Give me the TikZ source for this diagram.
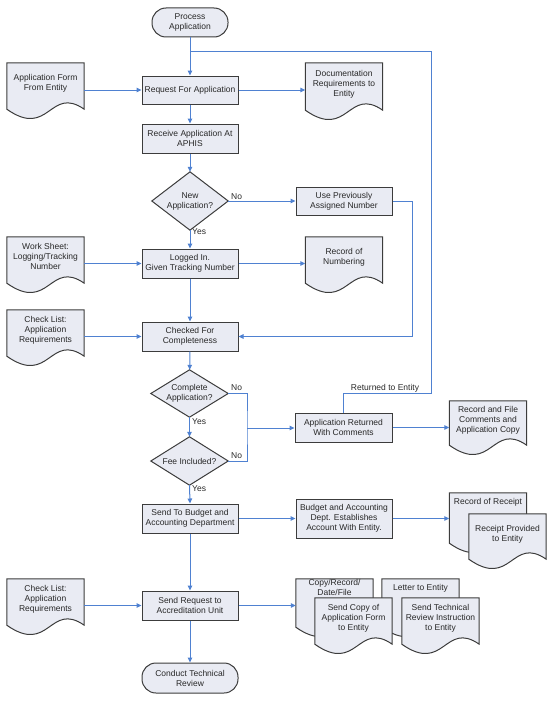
\documentclass[tikz,border=0pt]{standalone}
\usepackage{fontspec}
\setmainfont{Liberation Sans}
\usetikzlibrary{arrows.meta,calc,backgrounds}
\definecolor{boxfill}{RGB}{233,235,243}
\definecolor{boxline}{RGB}{60,60,60}
\definecolor{flow}{RGB}{79,129,209}
\definecolor{txt}{RGB}{40,40,40}
\newcommand\docshape[1]{\path[shp] (#1.south west) -- (#1.north west) -- (#1.north east) -- (#1.south east) .. controls ($(#1.south)+(4,-24)$) and ($(#1.south)+(4,30)$) .. (#1.south west) -- cycle;}
\begin{document}
\begin{tikzpicture}[x=1pt,y=-1pt, font=\fontsize{8.5}{10}\selectfont, text=txt,
 box/.style={draw=boxline, fill=boxfill, line width=1pt, rectangle, minimum width=96, minimum height=29, inner sep=1pt, align=center},
 term/.style={box, rounded corners=14pt},
 doc/.style={rectangle, minimum width=77, inner sep=1pt, align=center, text depth=6.5pt},
 dia/.style={rectangle, inner sep=0pt, align=center},
 shp/.style={draw=boxline, fill=boxfill, line width=1pt},
 flowline/.style={draw=flow, line width=1pt},
 arr/.style={flowline, -{Triangle[length=5pt,width=4.5pt]}},
 lbl/.style={inner sep=0pt, anchor=west},
 toplbl/.style={anchor=north, inner sep=0pt, align=center}]
\useasboundingbox (0,0) rectangle (553,701);

% process nodes
\node[term, minimum width=76] (start) at (190,22.5) {Process\\Application};
\node[box, minimum height=28] (req) at (190,90) {Request For Application};
\node[box] (recv) at (190,138.5) {Receive Application At\\APHIS};
\node[dia, minimum width=76, minimum height=58] (newapp) at (190,201) {New\\Application?};
\node[box, minimum height=28] (useprev) at (344,201) {Use Previously\\Assigned Number};
\node[box] (logged) at (190,263.5) {Logged In.\\Given Tracking Number};
\node[box] (checked) at (190,336.5) {Checked For\\Completeness};
\node[dia, minimum width=77, minimum height=47] (complete) at (189.5,393.5) {Complete\\Application?};
\node[dia, minimum width=77, minimum height=48] (fee) at (189.5,461) {Fee Included?};
\node[box, minimum width=97] (ret) at (343.5,427.5) {Application Returned\\With Comments};
\node[box] (budget) at (190,518.5) {Send To Budget and\\Accounting Department};
\node[box, minimum height=39] (bdept) at (344,518.5) {Budget and Accounting\\Dept. Establishes\\Account With Entity.};
\node[box] (sendreq) at (190,605.5) {Send Request to\\Accreditation Unit};
\node[term, minimum height=30] (conduct) at (190,678) {Conduct Technical\\Review};

% documents
\node[doc, minimum height=46] (appform) at (45.5,86) {Application Form\\From Entity};
\node[doc, minimum height=47] (docreq) at (344,86.5) {Documentation\\Requirements to\\Entity};
\node[doc, minimum height=46] (worksheet) at (45.5,260) {Work Sheet:\\Logging/Tracking\\Number};
\node[doc, minimum height=46] (recnum) at (344,260) {Record of\\Numbering};
\node[doc, minimum height=46] (checklist) at (45.5,333) {Check List:\\Application\\Requirements};
\node[doc, minimum height=44] (recfile) at (488,423) {Record and File\\Comments and\\Application Copy};
\node[doc, minimum height=50, label={[toplbl, yshift=-5pt]north:Record of Receipt}] (recreceipt) at (488,518) {};
\node[doc, minimum height=45] (receiptprov) at (507.5,536.5) {Receipt Provided\\to Entity};
\node[doc, minimum height=46] (checklist2) at (45.5,602) {Check List:\\Application\\Requirements};
\node[doc, minimum height=48, label={[toplbl]north:Copy/Record/\\Date/File}] (copyrec) at (334.5,603) {};
\node[doc, minimum height=48, label={[toplbl, yshift=-5pt]north:Letter to Entity}] (letter) at (420.5,603) {};
\node[doc, minimum height=46] (sendcopy) at (353.5,621) {Send Copy of\\Application Form\\to Entity};
\node[doc, minimum height=46] (sendtech) at (440.5,621) {Send Technical\\Review Instruction\\to Entity};

\begin{scope}[on background layer]
\foreach \n in {appform,docreq,worksheet,recnum,checklist,recfile,recreceipt,receiptprov,checklist2,copyrec,letter,sendcopy,sendtech} {\docshape{\n}}
\foreach \n in {newapp,complete,fee} {\path[shp] (\n.north) -- (\n.east) -- (\n.south) -- (\n.west) -- cycle;}
\end{scope}

% connectors
\coordinate (j1) at (190,52);
\coordinate (loopc) at (431,393);
\coordinate (c2) at (412,201);
\coordinate (jc) at (247,428);

\draw[arr] (start) -- (req);
\draw[flowline] (ret.north) |- (loopc) |- (j1);
\node[inner sep=0pt] (retlbl) at (385,388) {Returned to Entity};
\draw[arr] (req.west -| appform.east) -- (req.west);
\draw[arr] (req.east) -- (req.east -| docreq.west);
\draw[arr] (req) -- (recv);
\draw[arr] (recv) -- (newapp);
\draw[arr] (newapp.east) -- (useprev.west);
\node[lbl] (no1) at (231,197) {No};
\draw[arr] (newapp.south) -- (logged.north);
\node[lbl] (yes1) at (192,232) {Yes};
\draw[arr] (useprev.east) -- (c2) |- (checked.east);
\draw[arr] (logged.west -| worksheet.east) -- (logged.west);
\draw[arr] (logged.east) -- (logged.east -| recnum.west);
\draw[arr] (logged) -- (checked);
\draw[arr] (checked.west -| checklist.east) -- (checked.west);
\draw[arr] (checked) -- (complete);
\draw[arr] (complete.south) -- (fee.north);
\node[lbl] (yes2) at (192,422) {Yes};
\draw[flowline] (complete.east) -| (jc) |- (fee.east);
\node[lbl] (no2) at (231,388) {No};
\node[lbl] (no3) at (231,456) {No};
\draw[arr] (jc) -- (jc -| ret.west);
\draw[arr] (ret.east) -- (ret.east -| recfile.west);
\draw[arr] (fee.south) -- (budget.north);
\node[lbl] (yes3) at (192,489) {Yes};
\draw[arr] (budget) -- (bdept);
\draw[arr] (bdept.east) -- (bdept.east -| recreceipt.west);
\draw[arr] (budget) -- (sendreq);
\draw[arr] (sendreq.west -| checklist2.east) -- (sendreq.west);
\draw[arr] (sendreq.east) -- (sendreq.east -| copyrec.west);
\draw[arr] (sendreq) -- (conduct);
\end{tikzpicture}
\end{document}
